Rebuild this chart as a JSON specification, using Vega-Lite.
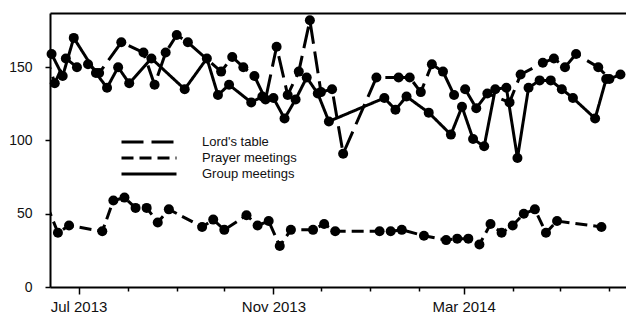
{
  "$schema": "https://vega.github.io/schema/vega-lite/v6.json",
  "width": 576,
  "height": 274,
  "autosize": {"type": "none"},
  "padding": {"left": 50, "top": 13, "right": 0, "bottom": 29},
  "background": "white",
  "config": {"view": {"stroke": null}, "font": "Liberation Sans"},
  "data": {"values": [
    {"series": "Lord's table", "date": "2013/06/09", "value": 163},
    {"series": "Lord's table", "date": "2013/06/16", "value": 139},
    {"series": "Lord's table", "date": "2013/06/23", "value": 156},
    {"series": "Lord's table", "date": "2013/06/30", "value": 150},
    {"series": "Lord's table", "date": "2013/07/07", "value": 152},
    {"series": "Lord's table", "date": "2013/07/14", "value": 146},
    {"series": "Lord's table", "date": "2013/07/28", "value": 167},
    {"series": "Lord's table", "date": "2013/08/11", "value": 160},
    {"series": "Lord's table", "date": "2013/08/18", "value": 138},
    {"series": "Lord's table", "date": "2013/08/25", "value": 160},
    {"series": "Lord's table", "date": "2013/09/01", "value": 172},
    {"series": "Lord's table", "date": "2013/09/08", "value": 167},
    {"series": "Lord's table", "date": "2013/09/29", "value": 147},
    {"series": "Lord's table", "date": "2013/10/06", "value": 157},
    {"series": "Lord's table", "date": "2013/10/13", "value": 150},
    {"series": "Lord's table", "date": "2013/10/20", "value": 144},
    {"series": "Lord's table", "date": "2013/10/27", "value": 128},
    {"series": "Lord's table", "date": "2013/11/03", "value": 164},
    {"series": "Lord's table", "date": "2013/11/10", "value": 131},
    {"series": "Lord's table", "date": "2013/11/17", "value": 147},
    {"series": "Lord's table", "date": "2013/11/24", "value": 182},
    {"series": "Lord's table", "date": "2013/12/01", "value": 133},
    {"series": "Lord's table", "date": "2013/12/08", "value": 135},
    {"series": "Lord's table", "date": "2013/12/15", "value": 91},
    {"series": "Lord's table", "date": "2014/01/05", "value": 143},
    {"series": "Lord's table", "date": "2014/01/19", "value": 143},
    {"series": "Lord's table", "date": "2014/01/26", "value": 143},
    {"series": "Lord's table", "date": "2014/02/02", "value": 133},
    {"series": "Lord's table", "date": "2014/02/09", "value": 152},
    {"series": "Lord's table", "date": "2014/02/16", "value": 147},
    {"series": "Lord's table", "date": "2014/02/23", "value": 131},
    {"series": "Lord's table", "date": "2014/03/02", "value": 135},
    {"series": "Lord's table", "date": "2014/03/09", "value": 122},
    {"series": "Lord's table", "date": "2014/03/16", "value": 132},
    {"series": "Lord's table", "date": "2014/03/30", "value": 126},
    {"series": "Lord's table", "date": "2014/04/06", "value": 145},
    {"series": "Lord's table", "date": "2014/04/20", "value": 153},
    {"series": "Lord's table", "date": "2014/04/27", "value": 156},
    {"series": "Lord's table", "date": "2014/05/04", "value": 150},
    {"series": "Lord's table", "date": "2014/05/11", "value": 159},
    {"series": "Lord's table", "date": "2014/05/25", "value": 150},
    {"series": "Lord's table", "date": "2014/06/01", "value": 142},
    {"series": "Lord's table", "date": "2014/06/08", "value": 145},
    {"series": "Group meetings", "date": "2013/06/14", "value": 159},
    {"series": "Group meetings", "date": "2013/06/21", "value": 144},
    {"series": "Group meetings", "date": "2013/06/28", "value": 170},
    {"series": "Group meetings", "date": "2013/07/12", "value": 146},
    {"series": "Group meetings", "date": "2013/07/19", "value": 136},
    {"series": "Group meetings", "date": "2013/07/26", "value": 150},
    {"series": "Group meetings", "date": "2013/08/02", "value": 139},
    {"series": "Group meetings", "date": "2013/08/16", "value": 156},
    {"series": "Group meetings", "date": "2013/09/06", "value": 135},
    {"series": "Group meetings", "date": "2013/09/20", "value": 156},
    {"series": "Group meetings", "date": "2013/09/27", "value": 131},
    {"series": "Group meetings", "date": "2013/10/04", "value": 138},
    {"series": "Group meetings", "date": "2013/10/18", "value": 126},
    {"series": "Group meetings", "date": "2013/10/25", "value": 130},
    {"series": "Group meetings", "date": "2013/11/01", "value": 129},
    {"series": "Group meetings", "date": "2013/11/08", "value": 115},
    {"series": "Group meetings", "date": "2013/11/15", "value": 128},
    {"series": "Group meetings", "date": "2013/11/22", "value": 143},
    {"series": "Group meetings", "date": "2013/11/29", "value": 132},
    {"series": "Group meetings", "date": "2013/12/06", "value": 113},
    {"series": "Group meetings", "date": "2014/01/10", "value": 129},
    {"series": "Group meetings", "date": "2014/01/17", "value": 121},
    {"series": "Group meetings", "date": "2014/01/24", "value": 130},
    {"series": "Group meetings", "date": "2014/02/07", "value": 119},
    {"series": "Group meetings", "date": "2014/02/21", "value": 104},
    {"series": "Group meetings", "date": "2014/02/28", "value": 123},
    {"series": "Group meetings", "date": "2014/03/07", "value": 101},
    {"series": "Group meetings", "date": "2014/03/14", "value": 96},
    {"series": "Group meetings", "date": "2014/03/21", "value": 135},
    {"series": "Group meetings", "date": "2014/03/28", "value": 136},
    {"series": "Group meetings", "date": "2014/04/04", "value": 88},
    {"series": "Group meetings", "date": "2014/04/11", "value": 136},
    {"series": "Group meetings", "date": "2014/04/18", "value": 141},
    {"series": "Group meetings", "date": "2014/04/25", "value": 141},
    {"series": "Group meetings", "date": "2014/05/02", "value": 135},
    {"series": "Group meetings", "date": "2014/05/09", "value": 129},
    {"series": "Group meetings", "date": "2014/05/23", "value": 115},
    {"series": "Group meetings", "date": "2014/05/30", "value": 142},
    {"series": "Prayer meetings", "date": "2013/06/11", "value": 56},
    {"series": "Prayer meetings", "date": "2013/06/18", "value": 37},
    {"series": "Prayer meetings", "date": "2013/06/25", "value": 42},
    {"series": "Prayer meetings", "date": "2013/07/16", "value": 38},
    {"series": "Prayer meetings", "date": "2013/07/23", "value": 59},
    {"series": "Prayer meetings", "date": "2013/07/30", "value": 61},
    {"series": "Prayer meetings", "date": "2013/08/06", "value": 54},
    {"series": "Prayer meetings", "date": "2013/08/13", "value": 54},
    {"series": "Prayer meetings", "date": "2013/08/20", "value": 44},
    {"series": "Prayer meetings", "date": "2013/08/27", "value": 53},
    {"series": "Prayer meetings", "date": "2013/09/17", "value": 41},
    {"series": "Prayer meetings", "date": "2013/09/24", "value": 46},
    {"series": "Prayer meetings", "date": "2013/10/01", "value": 39},
    {"series": "Prayer meetings", "date": "2013/10/15", "value": 49},
    {"series": "Prayer meetings", "date": "2013/10/22", "value": 42},
    {"series": "Prayer meetings", "date": "2013/10/29", "value": 45},
    {"series": "Prayer meetings", "date": "2013/11/05", "value": 28},
    {"series": "Prayer meetings", "date": "2013/11/12", "value": 39},
    {"series": "Prayer meetings", "date": "2013/11/26", "value": 39},
    {"series": "Prayer meetings", "date": "2013/12/03", "value": 43},
    {"series": "Prayer meetings", "date": "2013/12/10", "value": 38},
    {"series": "Prayer meetings", "date": "2014/01/07", "value": 38},
    {"series": "Prayer meetings", "date": "2014/01/14", "value": 38},
    {"series": "Prayer meetings", "date": "2014/01/21", "value": 39},
    {"series": "Prayer meetings", "date": "2014/02/04", "value": 35},
    {"series": "Prayer meetings", "date": "2014/02/18", "value": 32},
    {"series": "Prayer meetings", "date": "2014/02/25", "value": 33},
    {"series": "Prayer meetings", "date": "2014/03/04", "value": 33},
    {"series": "Prayer meetings", "date": "2014/03/11", "value": 29},
    {"series": "Prayer meetings", "date": "2014/03/18", "value": 43},
    {"series": "Prayer meetings", "date": "2014/03/25", "value": 37},
    {"series": "Prayer meetings", "date": "2014/04/01", "value": 42},
    {"series": "Prayer meetings", "date": "2014/04/08", "value": 50},
    {"series": "Prayer meetings", "date": "2014/04/15", "value": 53},
    {"series": "Prayer meetings", "date": "2014/04/22", "value": 37},
    {"series": "Prayer meetings", "date": "2014/04/29", "value": 45},
    {"series": "Prayer meetings", "date": "2014/05/27", "value": 41}
  ]},
  "encoding": {
    "y": {
      "field": "value", "type": "quantitative",
      "scale": {"domain": [0, 187], "nice": false, "zero": true},
      "axis": {
        "title": null, "values": [0, 50, 100, 150], "grid": false,
        "tickSize": 5, "tickWidth": 1.5, "tickColor": "black",
        "domainColor": "black", "domainWidth": 2,
        "labelPadding": 13, "labelFontSize": 14, "labelColor": "#111", "labelFont": "Liberation Sans"
      }
    }
  },
  "layer": [
    {
      "mark": {"type": "line", "clip": true, "strokeWidth": 3, "color": "black"},
      "encoding": {
        "x": {
          "field": "date", "type": "temporal",
          "scale": {"domain": [{"year": 2013, "month": 6, "date": 13}, {"year": 2014, "month": 6, "date": 11, "hours": 12}]},
          "axis": {
            "orient": "bottom", "title": null, "grid": false,
            "values": [
              {"year": 2013, "month": 7, "date": 1}, {"year": 2013, "month": 8, "date": 1},
              {"year": 2013, "month": 9, "date": 1}, {"year": 2013, "month": 10, "date": 1},
              {"year": 2013, "month": 11, "date": 1}, {"year": 2013, "month": 12, "date": 1},
              {"year": 2014, "month": 1, "date": 1}, {"year": 2014, "month": 2, "date": 1},
              {"year": 2014, "month": 3, "date": 1}, {"year": 2014, "month": 4, "date": 1},
              {"year": 2014, "month": 5, "date": 1}, {"year": 2014, "month": 6, "date": 1}
            ],
            "labelExpr": "month(datum.value) % 4 == 2 ? timeFormat(datum.value, '%b %Y') : ''",
            "labelOverlap": false, "labelFlush": false,
            "tickSize": {"condition": {"test": "month(datum.value) % 4 != 2", "value": 4}, "value": 7},
            "tickWidth": 1.5, "tickColor": "black",
            "domainColor": "black", "domainWidth": 2,
            "labelPadding": 5, "labelFontSize": 15, "labelColor": "#111", "labelFont": "Liberation Sans"
          }
        },
        "strokeDash": {
          "field": "series", "type": "nominal",
          "scale": {"domain": ["Lord's table", "Prayer meetings", "Group meetings"], "range": [[22, 8], [12, 6], [1, 0]]},
          "legend": {
            "orient": "none", "legendX": 92, "legendY": 122, "title": null,
            "symbolType": "M-5,0H5", "symbolSize": 121, "symbolStrokeWidth": 3, "symbolStrokeColor": "black",
            "labelFontSize": 13, "labelFont": "Liberation Sans", "labelColor": "#111",
            "rowPadding": 2, "labelOffset": 46
          }
        }
      }
    },
    {
      "transform": [{"filter": {"field": "date", "gte": {"year": 2013, "month": 6, "date": 13}}}],
      "mark": {"type": "circle", "size": 100, "color": "black", "opacity": 1},
      "encoding": {
        "x": {
          "field": "date", "type": "temporal",
          "axis": {"orient": "top", "title": null, "labels": false, "ticks": false, "grid": false, "domainColor": "black", "domainWidth": 2}
        },
        "detail": {"field": "series"}
      }
    }
  ],
  "resolve": {"axis": {"x": "independent"}}
}
